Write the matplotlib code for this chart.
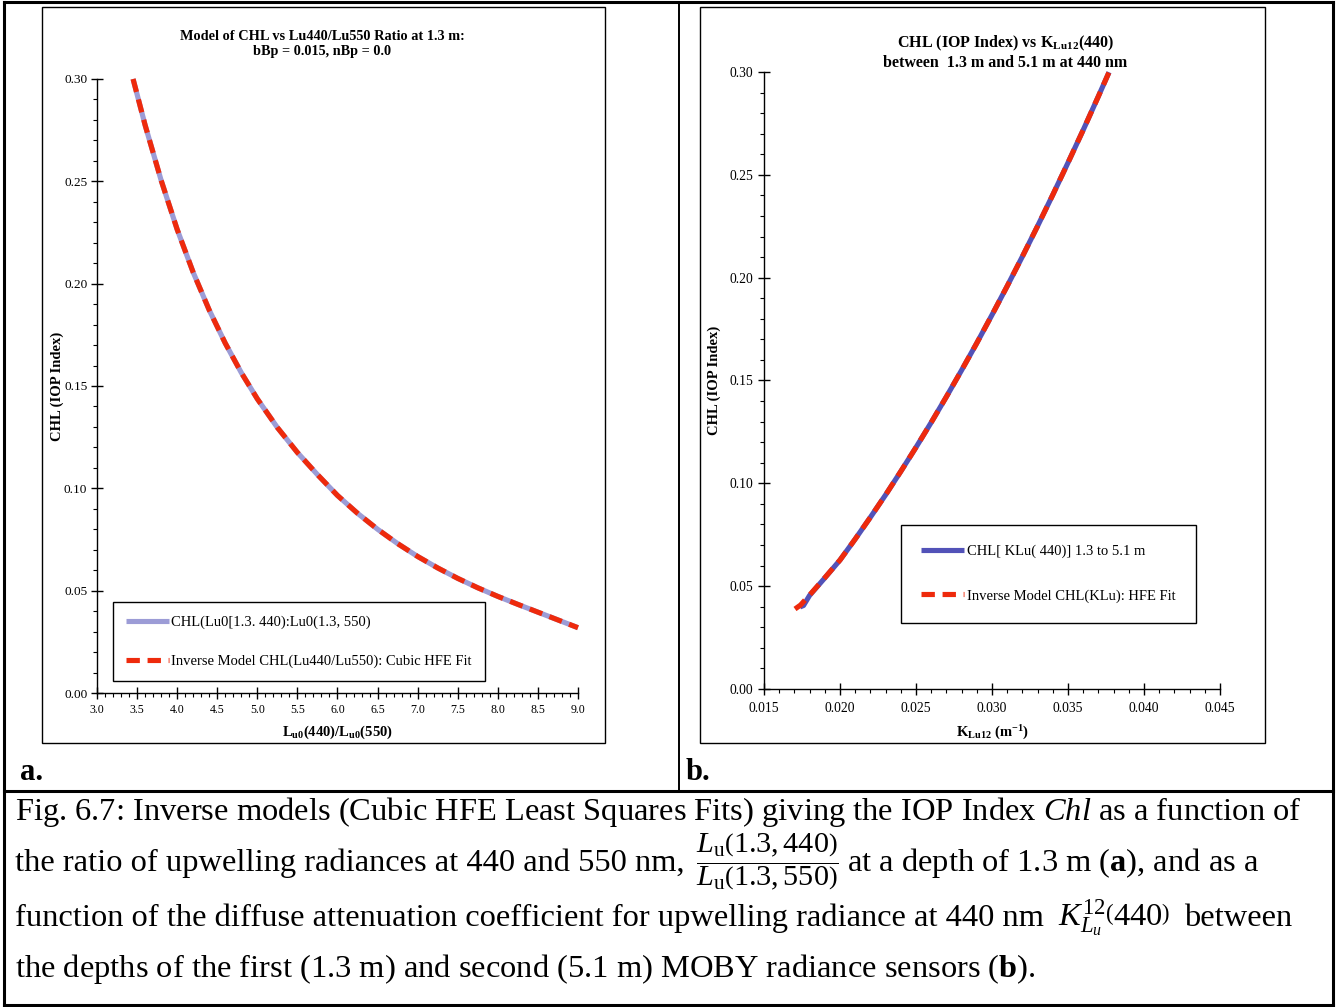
import matplotlib
matplotlib.use("Agg")
import matplotlib.pyplot as plt
from matplotlib.lines import Line2D
from matplotlib.patches import Rectangle
from matplotlib.ticker import MultipleLocator, FormatStrFormatter

# ---------------- data ----------------
ratio_a = [3.45, 3.60, 3.80, 4.00, 4.20, 4.40, 4.60, 4.80, 5.00, 5.25, 5.50, 5.75,
           6.00, 6.25, 6.50, 6.75, 7.00, 7.25, 7.50, 7.75, 8.00, 8.25, 8.50, 8.75, 9.00]
chl_a_model = [0.300, 0.2775, 0.2505, 0.2265, 0.2055, 0.1871, 0.1709, 0.1565, 0.1437,
               0.1297, 0.1175, 0.1067, 0.0965, 0.0878, 0.0800, 0.0730, 0.0667, 0.0611,
               0.0560, 0.0514, 0.0472, 0.0433, 0.0395, 0.0357, 0.0319]
chl_a_fit = [0.300, 0.2775, 0.2505, 0.2265, 0.2055, 0.1871, 0.1709, 0.1565, 0.1437,
             0.1297, 0.1175, 0.1067, 0.0965, 0.0878, 0.0800, 0.0730, 0.0667, 0.0611,
             0.0560, 0.0514, 0.0472, 0.0433, 0.0395, 0.0357, 0.0319]

k_b = [0.01737, 0.01760, 0.0180, 0.0190, 0.0200, 0.0210, 0.0220, 0.0230, 0.0240,
       0.0250, 0.0260, 0.0270, 0.0280, 0.0290, 0.0300, 0.0310, 0.0320, 0.0330,
       0.0340, 0.0350, 0.0360, 0.0370, 0.0377]
chl_b_model = [0.0399, 0.0406, 0.0455, 0.0540, 0.0627, 0.0729, 0.0835, 0.0944, 0.1058,
               0.1175, 0.1296, 0.1421, 0.1550, 0.1682, 0.1819, 0.1959, 0.2103, 0.2251,
               0.2403, 0.2559, 0.2718, 0.2882, 0.2999]
k_b_fit = [0.01704, 0.01740, 0.0180, 0.0190, 0.0200, 0.0210, 0.0220, 0.0230, 0.0240,
           0.0250, 0.0260, 0.0270, 0.0280, 0.0290, 0.0300, 0.0310, 0.0320, 0.0330,
           0.0340, 0.0350, 0.0360, 0.0370, 0.0377]
chl_b_fit = [0.0389, 0.0408, 0.0457, 0.0541, 0.0627, 0.0729, 0.0835, 0.0944, 0.1058,
             0.1175, 0.1296, 0.1421, 0.1550, 0.1682, 0.1819, 0.1959, 0.2103, 0.2251,
             0.2403, 0.2559, 0.2718, 0.2882, 0.2999]

labels_a = ["CHL(Lu0[1.3. 440):Lu0(1.3, 550)",
            "Inverse Model CHL(Lu440/Lu550): Cubic HFE Fit"]
labels_b = ["CHL[ KLu( 440)] 1.3 to 5.1 m",
            "Inverse Model CHL(KLu): HFE Fit"]

title_a = "Model of CHL vs Lu440/Lu550 Ratio at 1.3 m:\nbBp = 0.015, nBp = 0.0"
title_b = ("CHL (IOP Index) vs K$_{\\mathbf{Lu12}}$(440)\n"
           "between  1.3 m and 5.1 m at 440 nm")
xlabel_a = "L$_{\\mathbf{u0}}$(440)/L$_{\\mathbf{u0}}$(550)"
xlabel_b = "K$_{\\mathbf{Lu12}}$ (m$^{\\mathbf{-1}}$)"
ylabel = "CHL (IOP Index)"

caption_1 = ("Fig. 6.7: Inverse models (Cubic HFE Least Squares Fits) giving the IOP Index "
             "$\\mathit{Chl}$ as a function of")
caption_2a = "the ratio of upwelling radiances at 440 and 550 nm,"
caption_2f = ("$\\dfrac{L_{\\mathrm{u}}\\left(1.3,440\\right)}"
              "{L_{\\mathrm{u}}\\left(1.3,550\\right)}$")
caption_2b = "at a depth of 1.3 m ($\\mathbf{a}$), and as a"
caption_3a = "function of the diffuse attenuation coefficient for upwelling radiance at 440 nm"
caption_3k = "$K_{L_u}^{12}\\left(440\\right)$"
caption_3b = "between"
caption_4 = ("the depths of the first (1.3 m) and second (5.1 m) MOBY radiance sensors "
             "($\\mathbf{b}$).")

# ---------------- style ----------------
plt.rcParams.update({
    "font.family": ["Liberation Serif", "DejaVu Serif"],
    "mathtext.fontset": "custom",
    "mathtext.rm": "Liberation Serif",
    "mathtext.it": "Liberation Serif:italic",
    "mathtext.bf": "Liberation Serif:bold",
})
BLUE_A = "#9C9CD6"
BLUE_B = "#5252B8"
RED = "#EE2A0C"

W, H = 1338, 1007
fig = plt.figure(figsize=(W / 100, H / 100), dpi=100)


def fx(x):
    return x / W


def fy(y):
    return 1 - y / H


def seg(x0, y0, x1, y1, lw):
    fig.add_artist(Line2D([fx(x0), fx(x1)], [fy(y0), fy(y1)], transform=fig.transFigure,
                          color="black", lw=lw, solid_capstyle="projecting"))


# table borders
seg(4, 2, 1333, 2, 2.2)
seg(4, 1005, 1333, 1005, 2.2)
seg(4, 2, 4, 1005, 2.2)
seg(1333, 2, 1333, 1005, 2.2)
seg(4, 791, 1333, 791, 2.2)
seg(679, 2, 679, 791, 1.4)

# chart frames
for (x0, y0, x1, y1) in [(42, 7, 605, 743), (700, 7, 1265, 743)]:
    fig.add_artist(Rectangle((fx(x0), fy(y1)), (x1 - x0) / W, (y1 - y0) / H,
                             transform=fig.transFigure, fill=False, ec="black", lw=1.0))


def make_axes(x0, x1, ytop, ybot):
    return fig.add_axes([fx(x0), fy(ybot), (x1 - x0) / W, (ybot - ytop) / H])


ax1 = make_axes(97, 578, 79, 693)
ax2 = make_axes(764, 1220, 72, 689)

lw = 3.7
ax1.plot(ratio_a, chl_a_model, color=BLUE_A, lw=lw, solid_capstyle="butt", clip_on=False,
         label=labels_a[0], zorder=3)
ax1.plot(ratio_a, chl_a_fit, color=RED, lw=lw, dashes=(2.6, 1.5), clip_on=False,
         label=labels_a[1], zorder=4)
ax2.plot(k_b, chl_b_model, color=BLUE_B, lw=lw, solid_capstyle="butt", clip_on=False,
         label=labels_b[0], zorder=3)
ax2.plot(k_b_fit, chl_b_fit, color=RED, lw=lw, dashes=(2.6, 1.5), clip_on=False,
         label=labels_b[1], zorder=4)

ax1.set_xlim(3.0, 9.0)
ax1.set_ylim(0, 0.30)
ax1.xaxis.set_major_locator(MultipleLocator(0.5))
ax1.xaxis.set_minor_locator(MultipleLocator(0.1))
ax1.xaxis.set_major_formatter(FormatStrFormatter("%.1f"))

ax2.set_xlim(0.015, 0.045)
ax2.set_ylim(0, 0.30)
ax2.xaxis.set_major_locator(MultipleLocator(0.005))
ax2.xaxis.set_minor_locator(MultipleLocator(0.001))
ax2.xaxis.set_major_formatter(FormatStrFormatter("%.3f"))

for ax in (ax1, ax2):
    ax.patch.set_alpha(0)
    ax.spines["top"].set_visible(False)
    ax.spines["right"].set_visible(False)
    ax.spines["left"].set_linewidth(1.0)
    ax.spines["bottom"].set_linewidth(1.0)
    ax.yaxis.set_major_locator(MultipleLocator(0.05))
    ax.yaxis.set_minor_locator(MultipleLocator(0.01))
    ax.yaxis.set_major_formatter(FormatStrFormatter("%.2f"))
    ax.tick_params(which="major", direction="inout", length=8, width=1.0)
    ax.tick_params(which="minor", direction="out", length=3, width=0.8)

ax1.tick_params(axis="x", which="major", labelsize=8.6, pad=4)
ax1.tick_params(axis="y", which="major", labelsize=9.5, pad=3)
ax2.tick_params(axis="x", which="major", labelsize=9.8, pad=5)
ax2.tick_params(axis="y", which="major", labelsize=9.8, pad=4)

# axis labels
fig.text(fx(337.5), fy(732), xlabel_a, ha="center", va="center", fontsize=10.5, fontweight="bold")
fig.text(fx(992), fy(733), xlabel_b, ha="center", va="center", fontsize=10.5, fontweight="bold")
fig.text(fx(57), fy(386), ylabel, ha="center", va="center", rotation=90, fontsize=10.5,
         fontweight="bold")
fig.text(fx(714), fy(380), ylabel, ha="center", va="center", rotation=90, fontsize=10.5,
         fontweight="bold")

# titles
fig.text(fx(322), fy(44), title_a, ha="center", va="center", fontsize=10.3, fontweight="bold",
         linespacing=1.25)
fig.text(fx(1005), fy(52), title_b, ha="center", va="center", fontsize=11.5, fontweight="bold",
         linespacing=1.15)

# legends
leg_kw = dict(frameon=True, fancybox=False, shadow=False, edgecolor="black", facecolor="white",
              framealpha=1, fontsize=10.5, handletextpad=0.15, borderaxespad=0,
              bbox_transform=fig.transFigure, loc="lower left")
lg1 = ax1.legend(bbox_to_anchor=(fx(113), fy(681)), handlelength=2.95, borderpad=0.9,
                 labelspacing=1.75, **leg_kw)
lg2 = ax2.legend(bbox_to_anchor=(fx(901), fy(623)), handlelength=2.95, borderpad=1.4,
                 labelspacing=2.1, **leg_kw)
for lg in (lg1, lg2):
    lg.get_frame().set_linewidth(1.0)

# panel letters
fig.text(fx(20), fy(772), "a.", ha="left", va="center", fontsize=22, fontweight="bold")
fig.text(fx(686), fy(772), "b.", ha="left", va="center", fontsize=22, fontweight="bold")

# caption: font size fitted so that the first line spans the cell width
renderer = fig.canvas.get_renderer()
probe = fig.text(0, 0, caption_1, fontsize=20)
w = probe.get_window_extent(renderer=renderer).width
probe.remove()
cfs = 20 * 1285 / w


def pieces(items, x0, baseline):
    x = x0
    for s, fs, gap in items:
        t = fig.text(fx(x), fy(baseline), s, ha="left", va="baseline", fontsize=fs)
        x = t.get_window_extent(renderer=renderer).x1 + gap


pieces([(caption_1, cfs, 0)], 15, 820)
pieces([(caption_2a, cfs, 11), (caption_2f, cfs * 0.93, 9), (caption_2b, cfs, 0)], 15, 871)
pieces([(caption_3a, cfs, 14), (caption_3k, cfs, 14), (caption_3b, cfs, 0)], 15, 926)
pieces([(caption_4, cfs, 0)], 15, 977)

fig.savefig("out.png", dpi=100)
